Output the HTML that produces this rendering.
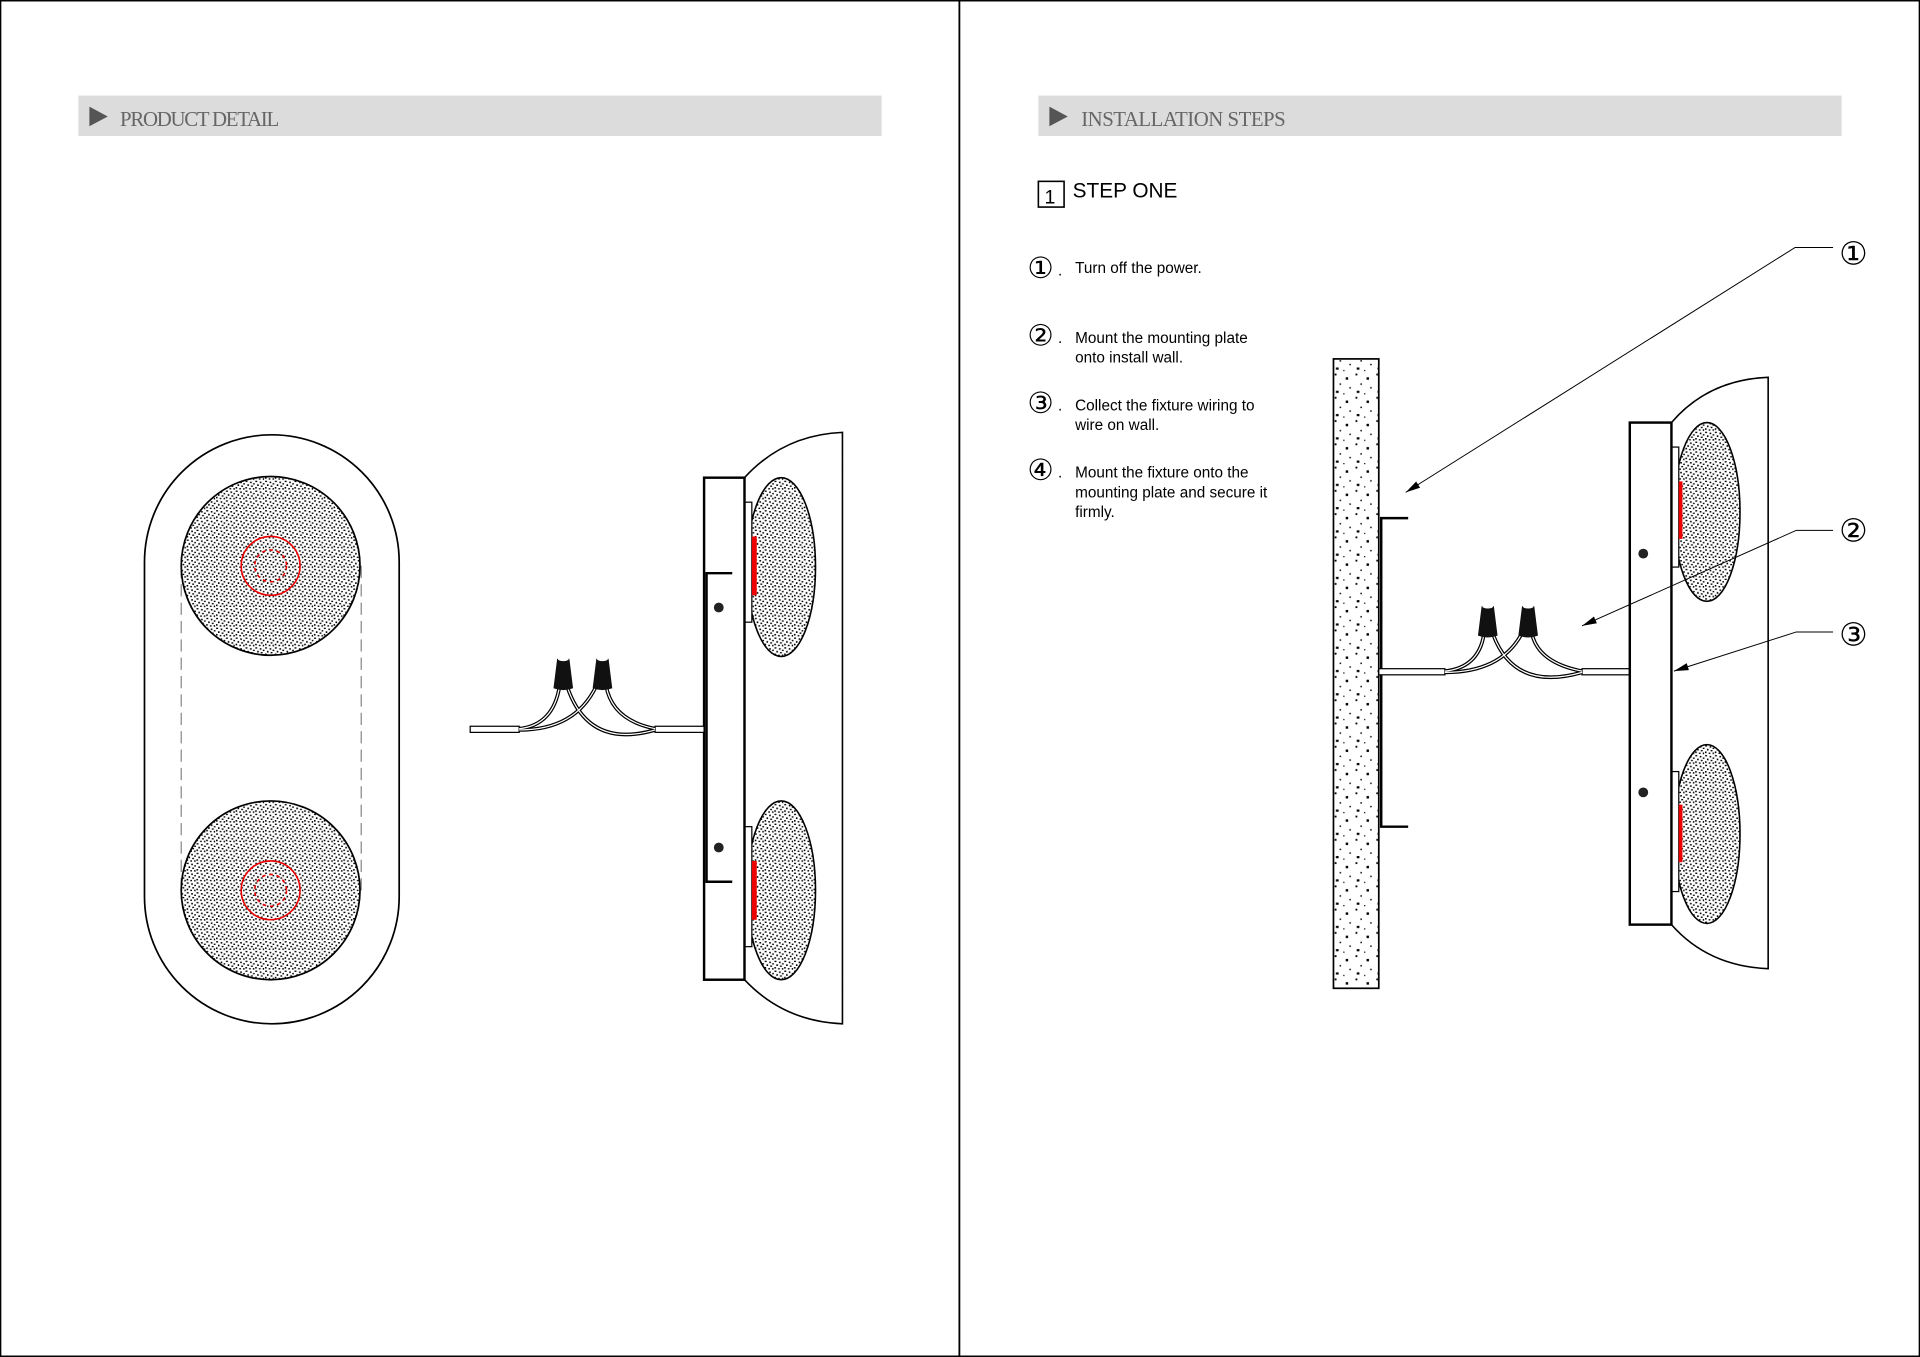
<!DOCTYPE html>
<html><head><meta charset="utf-8"><style>
html,body{margin:0;padding:0;background:#fff;}
svg{display:block;}
</style></head><body>
<svg width="1920" height="1357" viewBox="0 0 1568 1108" xmlns="http://www.w3.org/2000/svg" font-family="Liberation Sans, sans-serif">
<defs>
<pattern id="dense" width="8" height="8" patternUnits="userSpaceOnUse">
<rect width="8" height="8" fill="#fff"/>
<rect x="0.5" y="0.5" width="1.6" height="1.1" fill="#000"/>
<rect x="4.2" y="1.2" width="1.3" height="1.3" fill="#000"/>
<rect x="6.6" y="2.5" width="1.4" height="1.1" fill="#000"/>
<rect x="2" y="3.4" width="1.3" height="1.4" fill="#000"/>
<rect x="5" y="4.4" width="1.5" height="1.1" fill="#000"/>
<rect x="0.4" y="5.6" width="1.3" height="1.3" fill="#000"/>
<rect x="3.4" y="6.5" width="1.4" height="1.1" fill="#000"/>
<rect x="6.6" y="6.4" width="1.1" height="1.4" fill="#000"/>
</pattern>
<pattern id="sparse" width="17" height="19" patternUnits="userSpaceOnUse">
<rect width="17" height="19" fill="#fff"/>
<rect x="2" y="1" width="1.5" height="1.5" fill="#000"/>
<rect x="11" y="4" width="2" height="2" fill="#000"/>
<rect x="6" y="9" width="1.2" height="1.2" fill="#000"/>
<rect x="14" y="12" width="1.2" height="1.2" fill="#000"/>
<rect x="3" y="15" width="2.2" height="1.8" fill="#000"/>
<rect x="9" y="17" width="1" height="1" fill="#000"/>
</pattern>
<marker id="arr" markerWidth="12" markerHeight="6" refX="12" refY="3" orient="auto" markerUnits="userSpaceOnUse">
<path d="M0,0 L12,3 L0,6 Z" fill="#000"/>
</marker>
<g id="conn">
<path d="M-8,0 L-5,-24 Q0,-27 5,-24 L8,0 Q0,3 -8,0Z" fill="#111"/>
<ellipse cx="0" cy="-24" rx="4.5" ry="1.8" fill="#fff"/>
</g>
</defs>

<rect x="0.5" y="0.5" width="1567" height="1107" fill="none" stroke="#000" stroke-width="1.2"/>
<line x1="783.5" y1="0" x2="783.5" y2="1108" stroke="#000" stroke-width="1.5"/>

<rect x="64" y="78" width="656" height="33" fill="#dcdcdc"/>
<path d="M73,87 L88,95 L73,103Z" fill="#555"/>
<text x="98" y="103" style="font-family:'Liberation Serif',serif" font-size="17" fill="#666" textLength="130">PRODUCT DETAIL</text>
<rect x="848" y="78" width="656" height="33" fill="#dcdcdc"/>
<path d="M857,87 L872,95 L857,103Z" fill="#555"/>
<text x="883" y="103" style="font-family:'Liberation Serif',serif" font-size="17" fill="#666" textLength="167">INSTALLATION STEPS</text>

<rect x="848" y="148" width="21" height="21" fill="none" stroke="#000" stroke-width="1.3"/>
<text x="853" y="166" font-size="16">1</text>
<text x="876" y="161" font-size="17">STEP ONE</text>
<g font-size="12.5">
<text x="839" y="227" font-size="24" style="font-family:'DejaVu Sans',sans-serif">①</text><text x="864" y="225">.</text><text x="878" y="223">Turn off the power.</text>
<text x="839" y="282" font-size="24" style="font-family:'DejaVu Sans',sans-serif">②</text><text x="864" y="280">.</text><text x="878" y="280">Mount the mounting plate</text><text x="878" y="296">onto install wall.</text>
<text x="839" y="337" font-size="24" style="font-family:'DejaVu Sans',sans-serif">③</text><text x="864" y="335">.</text><text x="878" y="335">Collect the fixture wiring to</text><text x="878" y="351">wire on wall.</text>
<text x="839" y="392" font-size="24" style="font-family:'DejaVu Sans',sans-serif">④</text><text x="864" y="390">.</text><text x="878" y="390">Mount the fixture onto the</text><text x="878" y="406">mounting plate and secure it</text><text x="878" y="422">firmly.</text>
</g>

<rect x="118" y="355" width="208" height="481" rx="104" fill="#fff" stroke="#000" stroke-width="1.4"/>
<line x1="148" y1="462" x2="148" y2="727" stroke="#888" stroke-dasharray="10,5"/>
<line x1="295" y1="462" x2="295" y2="727" stroke="#888" stroke-dasharray="10,5"/>
<circle cx="221" cy="462" r="73" fill="url(#dense)" stroke="#000" stroke-width="1.4"/>
<circle cx="221" cy="727" r="73" fill="url(#dense)" stroke="#000" stroke-width="1.4"/>
<g fill="none" stroke="#e00" stroke-width="1.3">
<circle cx="221" cy="462" r="24"/><circle cx="221" cy="727" r="24"/>
<circle cx="221" cy="462" r="13" stroke-dasharray="3,3"/><circle cx="221" cy="727" r="13" stroke-dasharray="3,3"/>
</g>

<path d="M608,390 Q640,355 688,353 L688,836 Q640,834 608,800" fill="#fff" stroke="#000" stroke-width="1.3"/>
<ellipse cx="638" cy="463" rx="28" ry="73" fill="url(#dense)" stroke="#000" stroke-width="1.3"/>
<ellipse cx="638" cy="727" rx="28" ry="73" fill="url(#dense)" stroke="#000" stroke-width="1.3"/>
<rect x="608" y="410" width="6" height="98" fill="#fff" stroke="#000"/>
<rect x="608" y="675" width="6" height="98" fill="#fff" stroke="#000"/>
<rect x="614" y="438" width="4" height="48" fill="#e00"/>
<rect x="614" y="703" width="4" height="48" fill="#e00"/>
<rect x="575" y="390" width="33" height="410" fill="#fff" stroke="#000" stroke-width="2"/>
<path d="M598,468 L577,468 L577,720 L598,720" fill="none" stroke="#000" stroke-width="2"/>
<circle cx="587" cy="496" r="4" fill="#222"/><circle cx="587" cy="692" r="4" fill="#222"/>
<rect x="384" y="593" width="40" height="5" fill="#fff" stroke="#000"/>
<rect x="535" y="593" width="40" height="5" fill="#fff" stroke="#000"/>
<g fill="none" stroke="#000" stroke-width="3">
<path d="M424,595 Q452,592 457,560"/><path d="M424,596 Q470,596 487,560"/>
<path d="M535,595 Q500,588 495,560"/><path d="M535,596 Q480,612 463,560"/>
</g>
<g fill="none" stroke="#fff" stroke-width="1">
<path d="M424,595 Q452,592 457,560"/><path d="M424,596 Q470,596 487,560"/>
<path d="M535,595 Q500,588 495,560"/><path d="M535,596 Q480,612 463,560"/>
</g>
<use href="#conn" x="460" y="562"/><use href="#conn" x="492" y="562"/>

<rect x="1089" y="293" width="37" height="514" fill="url(#sparse)" stroke="#000" stroke-width="1.4"/>
<path d="M1150,423 L1128,423 L1128,675 L1150,675" fill="none" stroke="#000" stroke-width="2"/>
<rect x="1126" y="546" width="54" height="5" fill="#fff" stroke="#000"/>
<rect x="1292" y="546" width="40" height="5" fill="#fff" stroke="#000"/>
<g fill="none" stroke="#000" stroke-width="3">
<path d="M1180,548 Q1208,545 1212,517"/><path d="M1180,549 Q1226,549 1243,517"/>
<path d="M1292,548 Q1256,541 1251,517"/><path d="M1292,549 Q1236,565 1219,517"/>
</g>
<g fill="none" stroke="#fff" stroke-width="1">
<path d="M1180,548 Q1208,545 1212,517"/><path d="M1180,549 Q1226,549 1243,517"/>
<path d="M1292,548 Q1256,541 1251,517"/><path d="M1292,549 Q1236,565 1219,517"/>
</g>
<use href="#conn" x="1215" y="519"/><use href="#conn" x="1248" y="519"/>

<path d="M1365,345 Q1395,310 1444,308 L1444,791 Q1395,789 1365,755" fill="#fff" stroke="#000" stroke-width="1.3"/>
<ellipse cx="1394" cy="418" rx="27" ry="73" fill="url(#dense)" stroke="#000" stroke-width="1.3"/>
<ellipse cx="1394" cy="681" rx="27" ry="73" fill="url(#dense)" stroke="#000" stroke-width="1.3"/>
<rect x="1365" y="365" width="6" height="98" fill="#fff" stroke="#000"/>
<rect x="1365" y="630" width="6" height="98" fill="#fff" stroke="#000"/>
<rect x="1371" y="393" width="3" height="47" fill="#e00"/>
<rect x="1371" y="657" width="3" height="47" fill="#e00"/>
<rect x="1331" y="345" width="34" height="410" fill="#fff" stroke="#000" stroke-width="2"/>
<circle cx="1342" cy="452" r="4" fill="#222"/><circle cx="1342" cy="647" r="4" fill="#222"/>

<g fill="none" stroke="#000" stroke-width="0.8">
<path d="M1497,202 L1466,202 L1148,402" marker-end="url(#arr)"/>
<path d="M1497,433 L1467,433 L1292,511" marker-end="url(#arr)"/>
<path d="M1497,516 L1467,516 L1367,548" marker-end="url(#arr)"/>
</g>
<g font-size="26" style="font-family:'DejaVu Sans',sans-serif">
<text x="1502" y="216">①</text><text x="1502" y="442">②</text><text x="1502" y="527">③</text>
</g>
</svg>
</body></html>
